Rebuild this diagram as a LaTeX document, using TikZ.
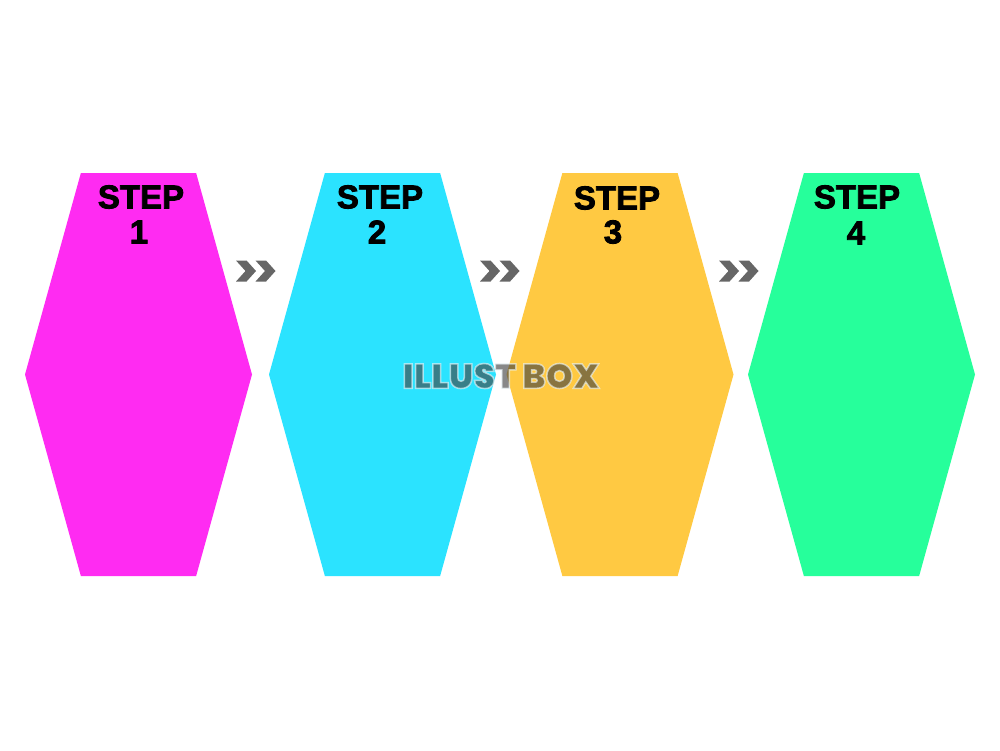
\documentclass[tikz,border=0pt]{standalone}
\usepackage{xcolor}
\usepackage{fontspec}
\setmainfont{Liberation Sans}[BoldFeatures={FakeBold=2.5}]
\newfontfamily\markfont{Poppins Black}
\usetikzlibrary{shapes, positioning}

\definecolor{stepmagenta}{HTML}{FF2BF2}
\definecolor{stepcyan}{HTML}{2BE3FF}
\definecolor{steporange}{HTML}{FFC942}
\definecolor{stepgreen}{HTML}{26FF9B}
\definecolor{chevrongrey}{HTML}{666666}

\newcommand{\halotext}[1]{\special{pdf:code 2 Tr 1.5 w 0.93 0.97 0.98 RG}#1\special{pdf:code 0 Tr}}

\tikzset{
    hexbox/.style={signal, signal to=east and west, signal pointer angle=149, inner sep=0pt, outer sep=0pt, minimum width=227pt, minimum height=403pt},
    steptext/.style={inner sep=0pt, font=\fontsize{33}{33}\selectfont\bfseries},
    chevron/.style={signal, signal from=west, signal to=east, signal pointer angle=96, fill=chevrongrey, inner sep=0pt, outer sep=0pt, minimum width=20pt, minimum height=21pt}
}

\begin{document}
\begin{tikzpicture}[x=1pt, y=-1pt]

    % Frame
    \path[use as bounding box, fill=white] (0,0) rectangle (1000,750);

    % Hexagons
    \node[hexbox, fill=stepmagenta] (hex1) at (138.5,374.5) {};
    \node[hexbox, fill=stepcyan] (hex2) at (382.5,374.5) {};
    \node[hexbox, fill=steporange] (hex3) at (620,374.5) {};
    \node[hexbox, fill=stepgreen] (hex4) at (861.5,374.5) {};

    % Labels
    \node[steptext] (step1) at (141,197) {STEP};
    \node[steptext] (num1) at (139,232) {1};
    \node[steptext] (step2) at (380,197) {STEP};
    \node[steptext] (num2) at (377,232) {2};
    \node[steptext] (step3) at (617,198) {STEP};
    \node[steptext] (num3) at (613,232) {3};
    \node[steptext] (step4) at (857,197) {STEP};
    \node[steptext] (num4) at (856,233) {4};

    % Chevrons
    \node[chevron] (chev1a) at (246,271) {};
    \node[chevron] (chev1b) at (265.5,271) {};
    \node[chevron] (chev2a) at (490,271) {};
    \node[chevron] (chev2b) at (509.5,271) {};
    \node[chevron] (chev3a) at (729,271) {};
    \node[chevron] (chev3b) at (748.5,271) {};

    % Watermark
    \node[inner sep=0pt, text=black!75, text opacity=0.62, font=\fontsize{34.5}{34.5}\markfont] (mark) at (501,376) {\halotext{ILLUST BOX}};

\end{tikzpicture}
\end{document}
